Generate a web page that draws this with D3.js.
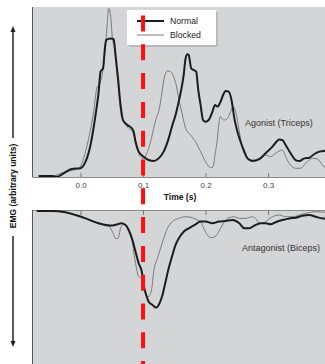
<!DOCTYPE html>
<html>
<head>
<meta charset="utf-8">
<script src="https://cdn.jsdelivr.net/npm/d3@7"></script>
<style>
  body { margin: 0; background: #fff; }
  svg { display: block; font-family: "Liberation Sans", Arial, sans-serif; }
</style>
</head>
<body>
<svg id="chart" width="325" height="364"></svg>
<script>
// time in s, EMG in arbitrary units
var agonistNormal = [
  [-0.067,0],[-0.046,0],[-0.038,-0.5],[-0.027,1.6],[-0.014,4.2],[0.000,4.6],[0.008,8.5],
  [0.016,18.5],[0.024,36.3],[0.029,50.2],[0.032,62.1],[0.036,64.1],[0.039,76],[0.041,81],
  [0.048,81.9],[0.053,81.4],[0.056,72],[0.060,58.1],[0.064,42.3],[0.068,33.3],[0.075,30.4],
  [0.082,28.4],[0.085,26.4],[0.088,20.4],[0.093,14.5],[0.101,11.5],[0.109,9.5],[0.117,8.9],
  [0.125,10.5],[0.133,14.5],[0.141,22.4],[0.147,30.4],[0.152,36.3],[0.157,44.2],[0.162,53.2],
  [0.165,60.1],[0.168,70],[0.171,72.4],[0.173,72],[0.177,64.1],[0.181,63.1],[0.185,62.1],
  [0.188,52.2],[0.192,42.3],[0.196,33.3],[0.200,32.3],[0.205,33.3],[0.211,38.3],[0.215,42.3],
  [0.219,41.3],[0.224,44.2],[0.228,48.2],[0.232,50.6],[0.237,50.2],[0.242,44.2],[0.246,34.3],
  [0.251,26.4],[0.256,20.4],[0.262,14.5],[0.267,10.5],[0.275,8.9],[0.286,10.1],[0.296,13.5],
  [0.307,17.5],[0.318,21.8],[0.323,21.4],[0.328,18.5],[0.336,13.5],[0.344,9.5],[0.350,8.9],
  [0.358,10.5],[0.366,10.9],[0.374,13.1],[0.382,14.5],[0.392,15.1]
];
var agonistBlocked = [
  [-0.067,0],[-0.046,0],[-0.024,2.6],[-0.003,4.6],[0.005,10.5],[0.013,22.4],[0.021,38.3],
  [0.026,52.2],[0.032,56.1],[0.037,66.1],[0.041,81.9],[0.043,91.9],[0.045,99.8],[0.048,95.8],
  [0.051,81.9],[0.054,76],[0.057,66.1],[0.061,50.2],[0.065,36.3],[0.069,32.3],[0.077,28.4],
  [0.083,26.4],[0.088,20.4],[0.092,14.5],[0.096,11.5],[0.101,10.5],[0.107,14.5],[0.112,20.4],
  [0.117,28.4],[0.121,34.3],[0.125,38.3],[0.128,44.2],[0.132,54.2],[0.135,60.1],[0.139,62.5],
  [0.144,62.1],[0.149,59.1],[0.153,54.2],[0.157,46.2],[0.163,36.3],[0.168,28.4],[0.176,24.4],
  [0.184,20.4],[0.192,14.5],[0.200,8.5],[0.208,5],[0.212,5.4],[0.215,12.5],[0.219,22.4],
  [0.221,30.4],[0.224,35.3],[0.229,33.3],[0.235,34.3],[0.240,38.3],[0.244,41.3],[0.248,38.3],
  [0.254,26.4],[0.259,16.5],[0.267,10.9],[0.275,9.5],[0.286,10.5],[0.296,12.5],[0.304,11.5],
  [0.312,13.5],[0.323,15.5],[0.328,11.5],[0.336,6.5],[0.344,4.6],[0.352,4.6],[0.360,7.5],
  [0.371,10.5],[0.379,10.1],[0.387,6.5],[0.392,4.6]
];
var antagonistNormal = [
  [-0.070,0.6],[-0.046,0.6],[-0.024,1.4],[-0.008,3.0],[0.008,5.0],[0.021,6.9],[0.035,8.5],
  [0.048,9.3],[0.059,8.5],[0.065,7.9],[0.072,8.9],[0.077,11.9],[0.083,17.9],[0.088,24.8],
  [0.093,31.7],[0.098,36.7],[0.101,44.6],[0.105,50.6],[0.109,54.6],[0.115,56.5],[0.121,58.1],
  [0.125,56.5],[0.131,50.6],[0.136,42.7],[0.141,34.7],[0.147,26.8],[0.152,20.8],[0.157,16.9],
  [0.165,12.9],[0.173,10.9],[0.184,8.5],[0.192,6.9],[0.200,6.9],[0.211,7.9],[0.221,6.9],
  [0.232,6.5],[0.243,6.0],[0.254,7.9],[0.262,10.9],[0.270,10.9],[0.278,9.3],[0.288,7.9],
  [0.296,7.9],[0.304,8.5],[0.312,7.3],[0.323,6.0],[0.334,5.0],[0.344,4.6],[0.355,3.4],
  [0.366,3.0],[0.376,4.0],[0.387,5.0],[0.392,5.0]
];
var antagonistBlocked = [
  [-0.070,0.6],[-0.046,0.6],[-0.024,1.4],[-0.008,3.0],[0.008,5.0],[0.021,6.9],[0.032,8.5],
  [0.043,8.9],[0.051,12.9],[0.056,16.9],[0.060,16.9],[0.064,10.9],[0.069,8.5],[0.076,10.9],
  [0.082,16.9],[0.085,24.8],[0.089,33.7],[0.093,39.7],[0.098,40.7],[0.101,46.6],[0.105,50.6],
  [0.109,51.6],[0.114,46.6],[0.117,36.7],[0.123,28.8],[0.128,22.8],[0.133,16.9],[0.139,10.9],
  [0.147,6.9],[0.157,5.0],[0.168,4.0],[0.179,4.6],[0.187,6.0],[0.192,6.9],[0.197,10.9],
  [0.203,14.9],[0.208,16.5],[0.215,15.9],[0.221,12.9],[0.227,8.9],[0.232,6.0],[0.237,4.6],
  [0.246,4.0],[0.254,5.0],[0.264,5.0],[0.275,4.0],[0.280,5.0],[0.286,7.9],[0.291,7.9],
  [0.299,6.0],[0.307,4.0],[0.318,3.0],[0.328,4.0],[0.339,4.0],[0.350,3.0],[0.360,2.0],
  [0.376,1.0],[0.392,1.4]
];
var timeTicks = [0.0, 0.1, 0.2, 0.3];
var blockTime = 0.1;
var legendNames = ["Normal", "Blocked"];

var svg = d3.select("#chart");
var panelBg = "#d4d5d7";

var x = d3.scaleLinear().domain([-0.0776, 0.391]).range([32, 325]);
var yTop = d3.scaleLinear().domain([0, 100]).range([176, 8]);
var yBot = d3.scaleLinear().domain([0, 100]).range([210, 378]);

// panels
svg.append("rect").attr("x", 32).attr("y", 7).attr("width", 293).attr("height", 170).attr("fill", panelBg);
svg.append("rect").attr("x", 32).attr("y", 210).attr("width", 293).attr("height", 154).attr("fill", panelBg);

var defs = svg.append("defs");
defs.append("clipPath").attr("id", "clipTop").append("rect")
  .attr("x", 32).attr("y", 7).attr("width", 293).attr("height", 170);
defs.append("clipPath").attr("id", "clipBot").append("rect")
  .attr("x", 32).attr("y", 210).attr("width", 293).attr("height", 154);

// axes
var axTop = svg.append("g").attr("transform", "translate(0,177)")
  .call(d3.axisBottom(x).tickValues(timeTicks).tickFormat(d3.format(".1f"))
    .tickSizeInner(-4).tickSizeOuter(0).tickPadding(5));
axTop.select(".domain").attr("stroke", "#8a8a8a");
axTop.selectAll(".tick line").attr("stroke", "#777");
axTop.selectAll(".tick text").attr("fill", "#444").style("font-size", "8px");

var axBot = svg.append("g").attr("transform", "translate(0,210)")
  .call(d3.axisTop(x).tickValues(timeTicks).tickFormat("")
    .tickSizeInner(-5).tickSizeOuter(0));
axBot.select(".domain").attr("stroke", "#8a8a8a");
axBot.selectAll(".tick line").attr("stroke", "#777");

// left borders
svg.append("line").attr("x1", 32.5).attr("x2", 32.5).attr("y1", 7).attr("y2", 177).attr("stroke", "#555").attr("stroke-width", 1);
svg.append("line").attr("x1", 32.5).attr("x2", 32.5).attr("y1", 210).attr("y2", 364).attr("stroke", "#555").attr("stroke-width", 1);

// traces
var lineTop = d3.line().x(function(d){ return x(d[0]); }).y(function(d){ return yTop(d[1]); }).curve(d3.curveMonotoneX);
var lineBot = d3.line().x(function(d){ return x(d[0]); }).y(function(d){ return yBot(d[1]); }).curve(d3.curveMonotoneX);

var gTop = svg.append("g").attr("clip-path", "url(#clipTop)");
gTop.append("path").datum(agonistBlocked).attr("d", lineTop).attr("fill", "none").attr("stroke", "#7a7a7a").attr("stroke-width", 1);
gTop.append("path").datum(agonistNormal).attr("d", lineTop).attr("fill", "none").attr("stroke", "#1c1c1c").attr("stroke-width", 2);

var gBot = svg.append("g").attr("clip-path", "url(#clipBot)");
gBot.append("path").datum(antagonistBlocked).attr("d", lineBot).attr("fill", "none").attr("stroke", "#7a7a7a").attr("stroke-width", 1);
gBot.append("path").datum(antagonistNormal).attr("d", lineBot).attr("fill", "none").attr("stroke", "#1c1c1c").attr("stroke-width", 2);

// panel labels
svg.append("text").attr("x", 245).attr("y", 126).attr("fill", "#333").style("font-size", "9px").text("Agonist (Triceps)");
svg.append("text").attr("x", 242).attr("y", 251).attr("fill", "#333").style("font-size", "9px").text("Antagonist (Biceps)");
svg.append("text").attr("x", 180).attr("y", 200).attr("text-anchor", "middle").attr("fill", "#111")
  .style("font-size", "8.5px").style("font-weight", "bold").text("Time (s)");

// legend
var lg = svg.append("g");
lg.append("rect").attr("x", 129).attr("y", 12).attr("width", 89).attr("height", 35).attr("fill", "#b9babc");
lg.append("rect").attr("x", 127).attr("y", 10).attr("width", 89).attr("height", 35).attr("fill", "#fff");
legendNames.forEach(function(name, i) {
  var ly = 21 + i * 14;
  lg.append("line").attr("x1", 137).attr("x2", 164).attr("y1", ly).attr("y2", ly)
    .attr("stroke", i === 0 ? "#1c1c1c" : "#7a7a7a").attr("stroke-width", i === 0 ? 2 : 1);
  lg.append("text").attr("x", 170).attr("y", ly + 3).attr("fill", "#222").style("font-size", "8.7px").text(name);
});

// red dashed line at the block time
svg.append("line").attr("x1", x(blockTime)).attr("x2", x(blockTime)).attr("y1", 15.5).attr("y2", 364)
  .attr("stroke", "#ff1010").attr("stroke-width", 4).attr("stroke-dasharray", "16,12.8");

// y axis label with arrows
svg.append("text").attr("transform", "translate(16,186) rotate(-90)").attr("text-anchor", "middle")
  .attr("fill", "#111").style("font-size", "8.5px").style("font-weight", "bold").text("EMG (arbitrary units)");
var arrow = svg.append("g").attr("stroke", "#222").attr("fill", "#222");
arrow.append("line").attr("x1", 13).attr("x2", 13).attr("y1", 138).attr("y2", 31).attr("stroke-width", 1.5);
arrow.append("path").attr("d", "M13,26 L10.5,32 L15.5,32 Z").attr("stroke", "none");
arrow.append("line").attr("x1", 13).attr("x2", 13).attr("y1", 236).attr("y2", 342).attr("stroke-width", 1.5);
arrow.append("path").attr("d", "M13,347 L10.5,341 L15.5,341 Z").attr("stroke", "none");
</script>
</body>
</html>
